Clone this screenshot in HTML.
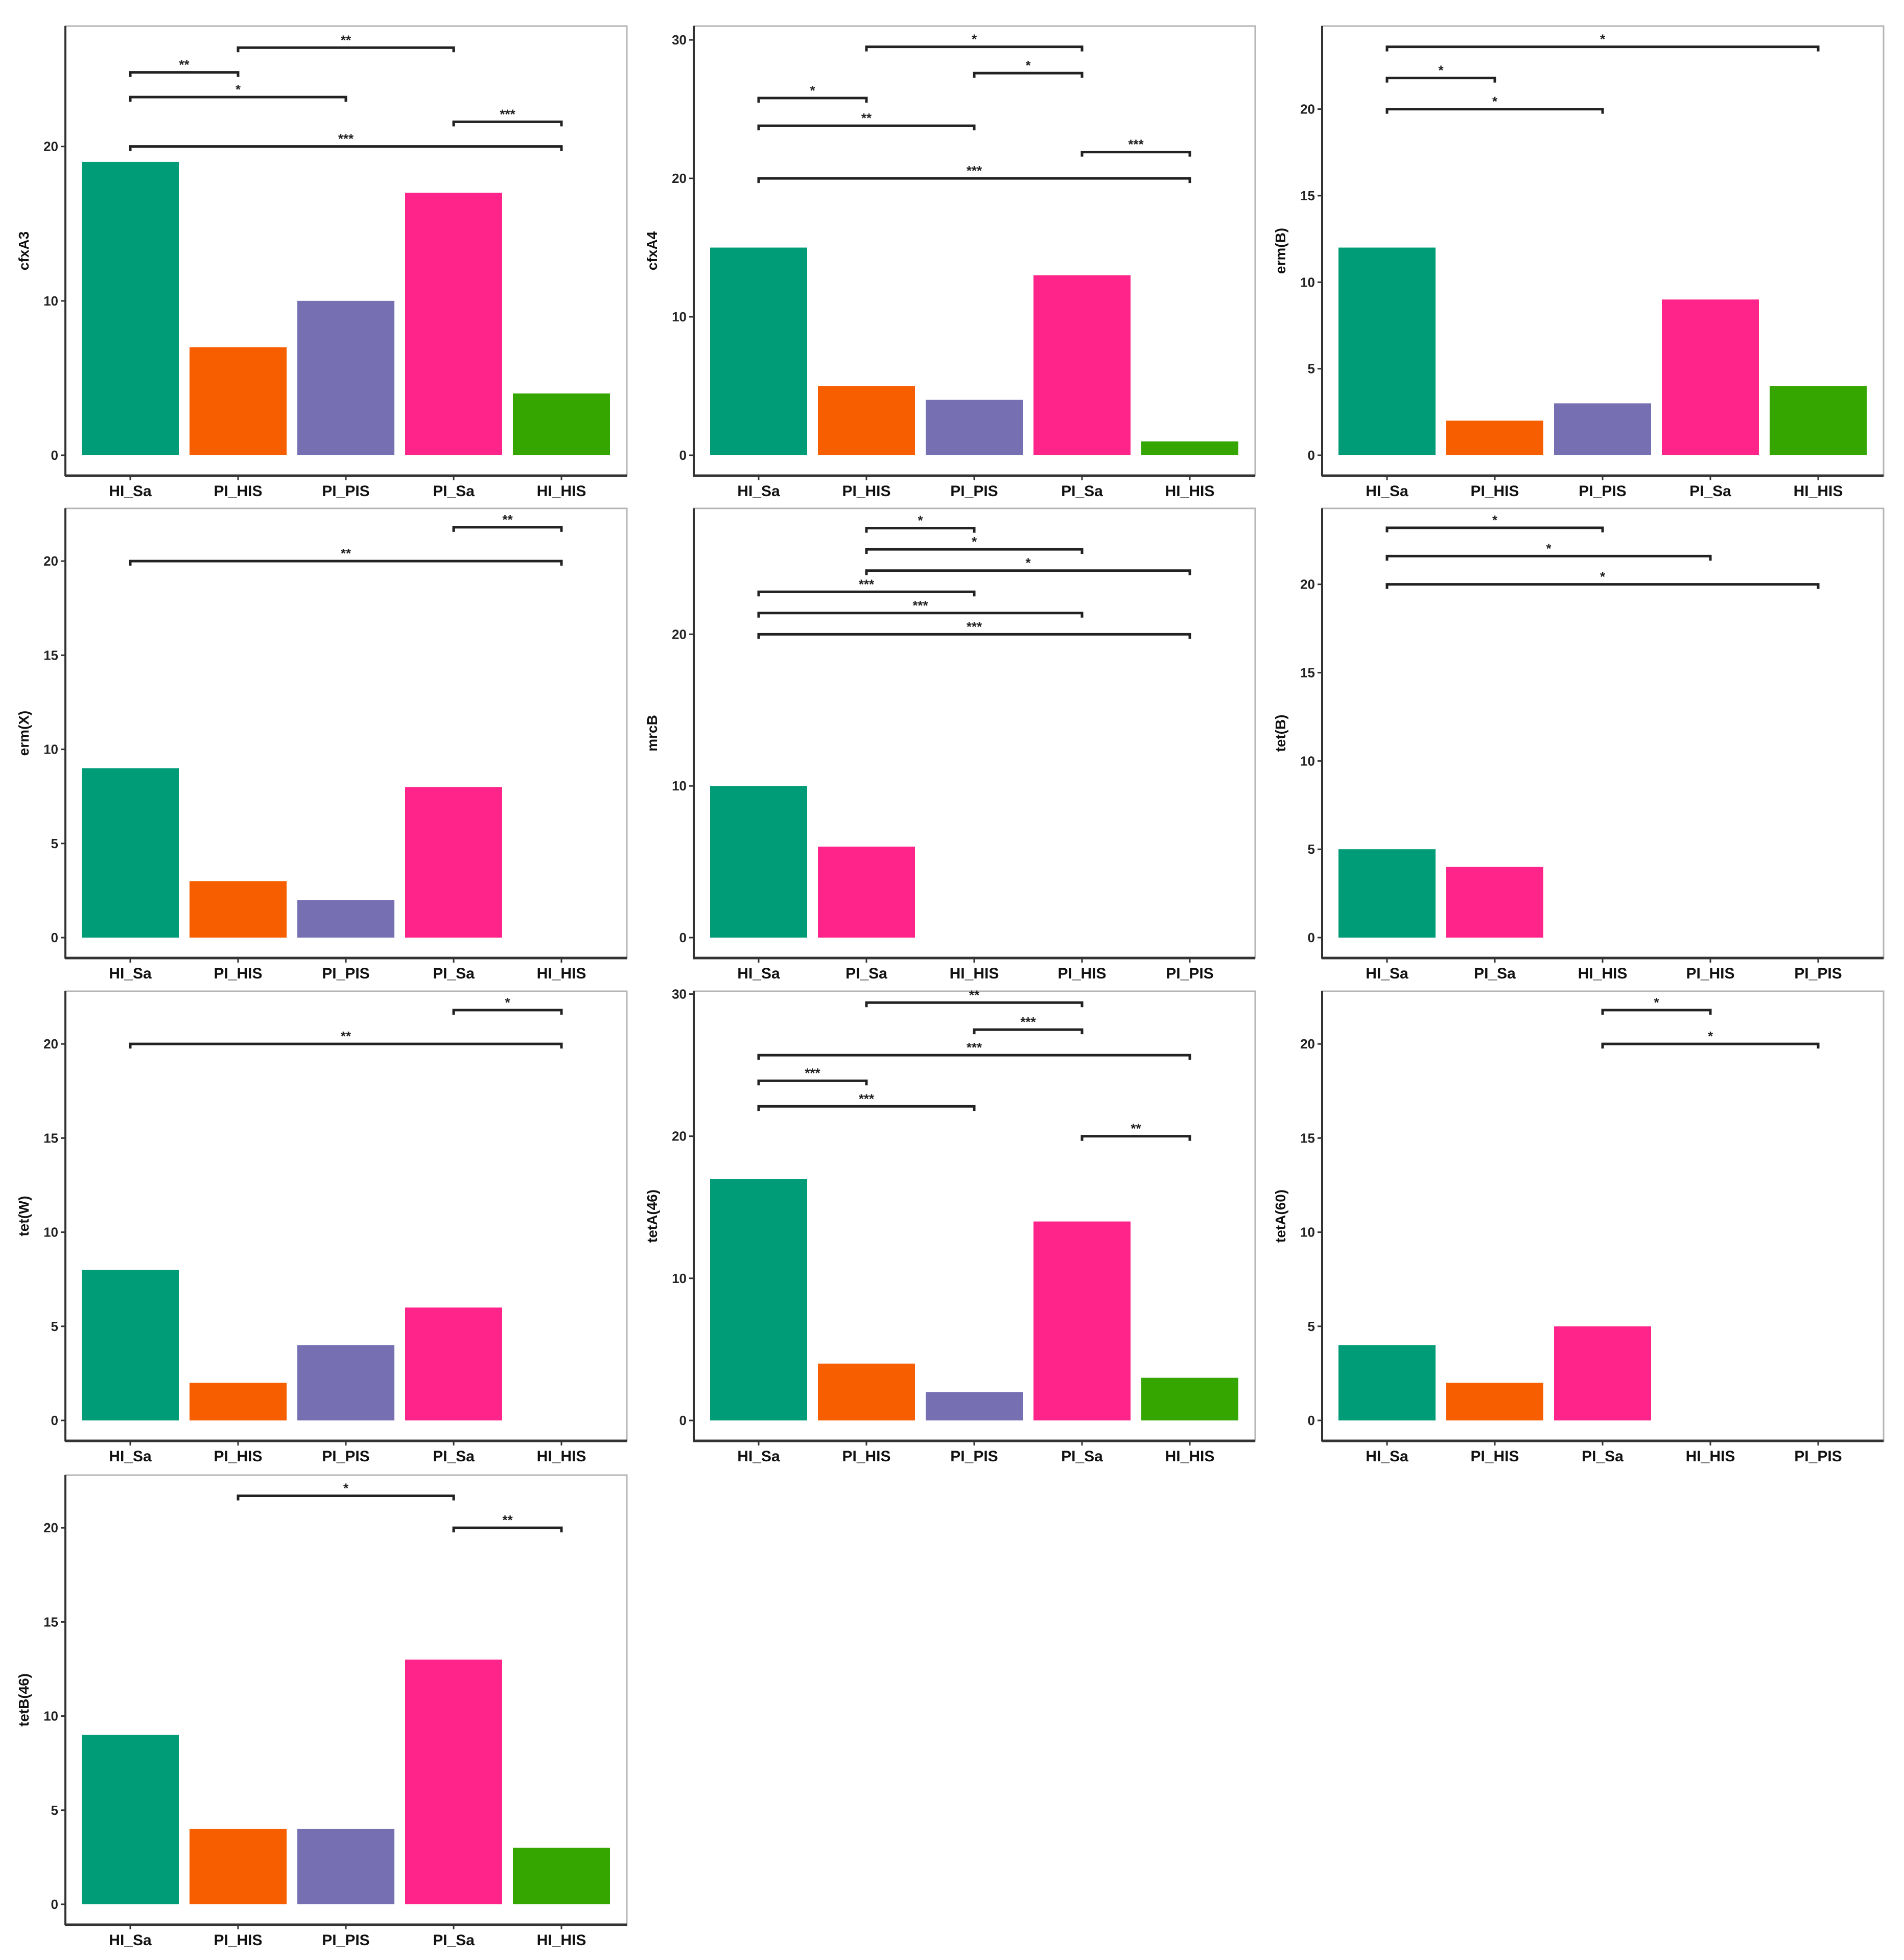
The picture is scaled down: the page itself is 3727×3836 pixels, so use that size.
<!DOCTYPE html>
<html><head><meta charset="utf-8">
<style>
html,body{margin:0;padding:0;background:#fff;}
svg{display:block;}
text{font-family:"Liberation Sans",Arial,sans-serif;}
</style></head>
<body>
<svg id="fig" width="3727" height="3836" viewBox="0 0 3727 3836" xmlns="http://www.w3.org/2000/svg"></svg>
<script>
// ---- data ----
const titles = ["cfxA3","cfxA4","erm(B)","erm(X)","mrcB","tet(B)","tet(W)","tetA(46)","tetA(60)","tetB(46)"];
const catsA = ["HI_Sa","PI_HIS","PI_PIS","PI_Sa","HI_HIS"];
const catsB = ["HI_Sa","PI_Sa","HI_HIS","PI_HIS","PI_PIS"];
const catsC = ["HI_Sa","PI_HIS","PI_Sa","HI_HIS","PI_PIS"];
const panelCats = [catsA,catsA,catsA,catsA,catsB,catsB,catsA,catsA,catsC,catsA];
const values = [
  [19,7,10,17,4],
  [15,5,4,13,1],
  [12,2,3,9,4],
  [9,3,2,8,0],
  [10,6,0,0,0],
  [5,4,0,0,0],
  [8,2,4,6,0],
  [17,4,2,14,3],
  [4,2,5,0,0],
  [9,4,4,13,3]
];
const yMax = [27.8,31.0,24.8,22.8,28.3,24.3,22.8,30.2,22.8,22.8];
const yTicks = [
  [0,10,20],[0,10,20,30],[0,5,10,15,20],[0,5,10,15,20],[0,10,20],
  [0,5,10,15,20],[0,5,10,15,20],[0,10,20,30],[0,5,10,15,20],[0,5,10,15,20]
];
// brackets: [fromIdx, toIdx, yValue, label]
const brackets = [
  [[0,1,24.8,"**"],[1,3,26.4,"**"],[0,2,23.2,"*"],[3,4,21.6,"***"],[0,4,20,"***"]],
  [[1,3,29.5,"*"],[2,3,27.6,"*"],[0,1,25.8,"*"],[0,2,23.8,"**"],[3,4,21.9,"***"],[0,4,20,"***"]],
  [[0,4,23.6,"*"],[0,1,21.8,"*"],[0,2,20,"*"]],
  [[3,4,21.8,"**"],[0,4,20,"**"]],
  [[1,2,27,"*"],[1,3,25.6,"*"],[1,4,24.2,"*"],[0,2,22.8,"***"],[0,3,21.4,"***"],[0,4,20,"***"]],
  [[0,2,23.2,"*"],[0,3,21.6,"*"],[0,4,20,"*"]],
  [[3,4,21.8,"*"],[0,4,20,"**"]],
  [[1,3,29.4,"**"],[2,3,27.5,"***"],[0,4,25.7,"***"],[0,1,23.9,"***"],[0,2,22.1,"***"],[3,4,20,"**"]],
  [[2,3,21.8,"*"],[2,4,20,"*"]],
  [[1,3,21.7,"*"],[3,4,20,"**"]]
];
const colorOf = {"HI_Sa":"#009b77","PI_HIS":"#f75e00","PI_PIS":"#7670b3","PI_Sa":"#ff2489","HI_HIS":"#35a500"};

// ---- layout ----
const NS="http://www.w3.org/2000/svg";
const svg=document.getElementById('fig');
const colLeft=[128,1358,2588], rowTop=[51,995,1940,2887];
const PW=1099, PH=880, ZERO=840, STEP=211, FIRST=127;
function mk(tag,attrs,parent){const e=document.createElementNS(NS,tag);for(const k in attrs)e.setAttribute(k,attrs[k]);(parent||svg).appendChild(e);return e;}

titles.forEach((t,p)=>{
  const L=colLeft[p%3], T=rowTop[Math.floor(p/3)];
  const g=mk('g',{});
  
  
  const zeroY=T+ZERO;
  const pxPer=(ZERO)/ (yMax[p]);
  const yS=v=>zeroY-v*pxPer;
  const xS=i=>L+FIRST+i*STEP;
  // frame
  const fr=mk('rect',{x:L,y:T,width:PW,height:PH,fill:'none',stroke:'#b5b5b5','stroke-width':3},g);
  
  
  const ya=mk('line',{x1:L,y1:T,x2:L,y2:T+PH+1,stroke:'#333','stroke-width':4},g);
  
  
  const xa=mk('line',{x1:L-1,y1:T+PH,x2:L+PW,y2:T+PH,stroke:'#333','stroke-width':5},g);
  
  
  // y ticks
  yTicks[p].forEach(v=>{
    const y=yS(v);
    const tk=mk('line',{x1:L-9,y1:y,x2:L,y2:y,stroke:'#333','stroke-width':3},g);
    
    
    const tl=mk('text',{x:L-14,y:y+9,'text-anchor':'end','font-size':26,'font-weight':'bold',fill:'#222'},g);
    tl.textContent=v;
    
    
  });
  // y title
  const yt=mk('text',{x:0,y:0,'text-anchor':'middle','font-size':28,'font-weight':'bold',fill:'#111',transform:`translate(${L-72},${T+PH/2}) rotate(-90)`},g);
  yt.textContent=t;
  
  
  // bars
  panelCats[p].forEach((c,i)=>{
    const v=values[p][i], x=xS(i);
    if(v>0){
      const b=mk('rect',{x:x-95,y:yS(v),width:190,height:v*pxPer,fill:colorOf[c]},g);
      
      
    }
    const xt=mk('line',{x1:x,y1:T+PH,x2:x,y2:T+PH+9,stroke:'#333','stroke-width':3},g);
    
    
    const xl=mk('text',{x:x,y:T+PH+40,'text-anchor':'middle','font-size':30,'font-weight':'bold',fill:'#111'},g);
    xl.textContent=c;
    
    
  });
  // significance brackets
  brackets[p].forEach(br=>{
    const x1=xS(br[0]), x2=xS(br[1]), y=yS(br[2]);
    const pa=mk('path',{d:`M${x1},${y+9} L${x1},${y} L${x2},${y} L${x2},${y+9}`,fill:'none',stroke:'#222','stroke-width':5},g);
    
    
    const st=mk('text',{x:(x1+x2)/2,y:y-6,'text-anchor':'middle','font-size':26,'font-weight':'bold',fill:'#222'},g);
    st.textContent=br[3];
    
    
  });
});
</script>
</body></html>
